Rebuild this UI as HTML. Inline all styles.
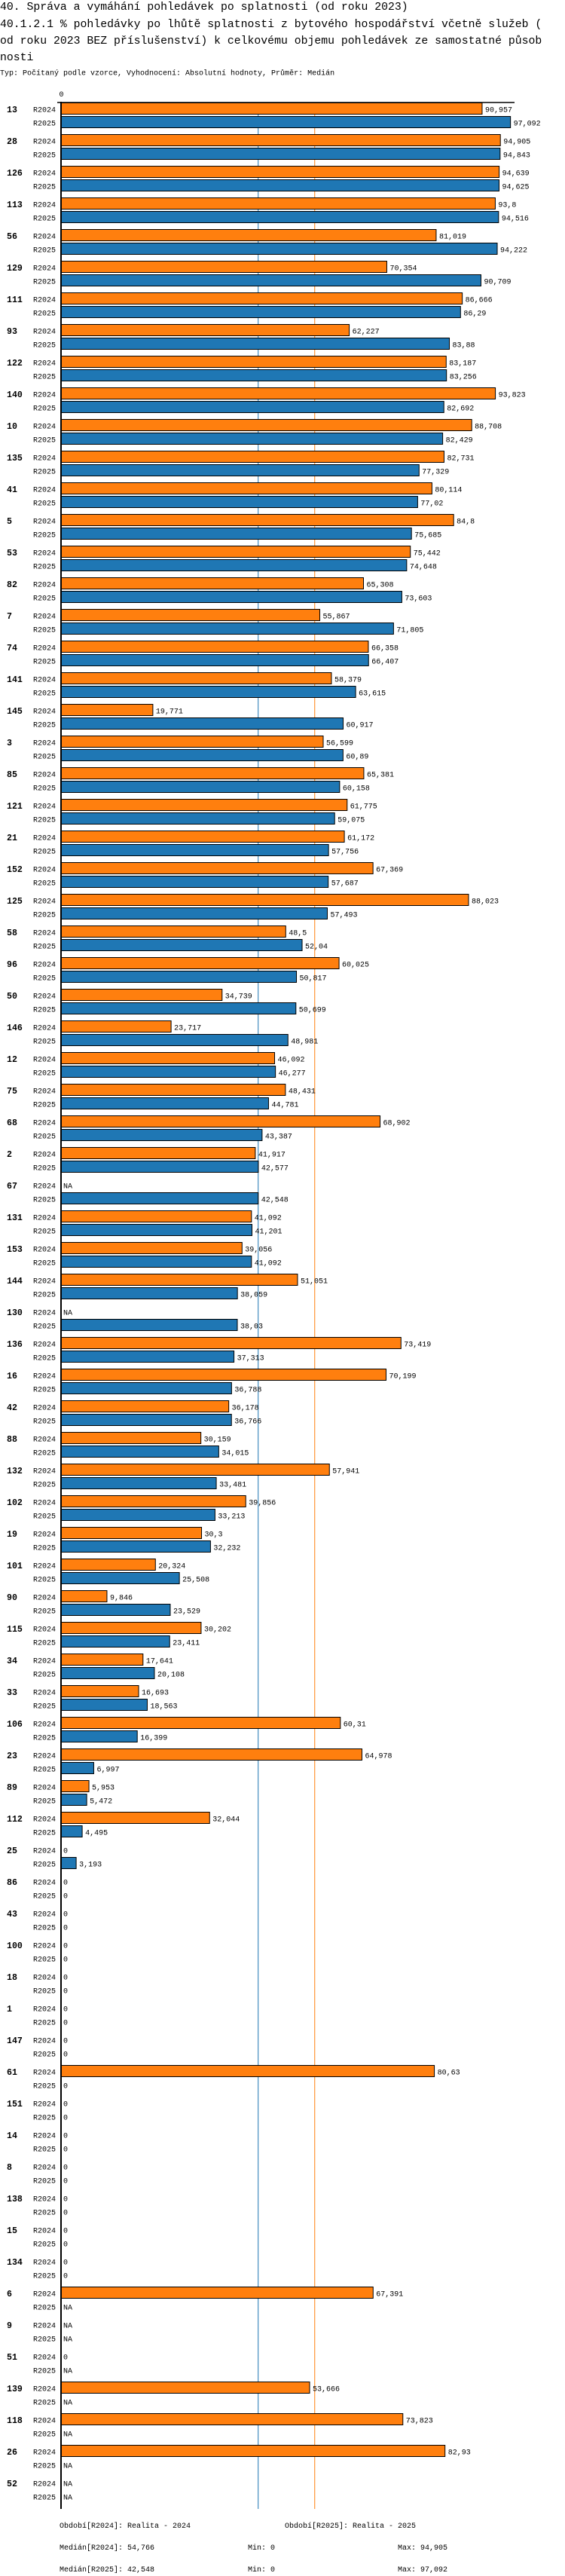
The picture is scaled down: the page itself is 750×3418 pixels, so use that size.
<!DOCTYPE html>
<html><head><meta charset="utf-8">
<style>
html,body{margin:0;padding:0;background:#fff;}
svg{display:block;}
text{font-family:"Liberation Mono",monospace;fill:#000;}
</style></head>
<body>
<svg id="chart" width="750" height="3418" viewBox="0 0 750 3418" xmlns="http://www.w3.org/2000/svg">
<text x="0" y="13" font-size="14.8">40. Správa a vymáhání pohledávek po splatnosti (od roku 2023)</text>
<text x="0" y="36" font-size="14.8">40.1.2.1 % pohledávky po lhůtě splatnosti z bytového hospodářství včetně služeb (</text>
<text x="0" y="58" font-size="14.8">od roku 2023 BEZ příslušenství) k celkovému objemu pohledávek ze samostatné působ</text>
<text x="0" y="80" font-size="14.8">nosti</text>
<text x="0" y="99.5" font-size="10">Typ: Počítaný podle vzorce, Vyhodnocení: Absolutní hodnoty, Průměr: Medián</text>
<g id="plot"></g>
<text x="79" y="3354" font-size="10">Období[R2024]: Realita - 2024</text>
<text x="378" y="3354" font-size="10">Období[R2025]: Realita - 2025</text>
<text x="79" y="3383" font-size="10">Medián[R2024]: 54,766</text>
<text x="329" y="3383" font-size="10">Min: 0</text>
<text x="528" y="3383" font-size="10">Max: 94,905</text>
<text x="79" y="3412" font-size="10">Medián[R2025]: 42,548</text>
<text x="329" y="3412" font-size="10">Min: 0</text>
<text x="528" y="3412" font-size="10">Max: 97,092</text>
</svg>
<script>
const categories = ["13","28","126","113","56","129","111","93","122","140","10","135","41","5","53","82","7","74","141","145","3","85","121","21","152","125","58","96","50","146","12","75","68","2","67","131","153","144","130","136","16","42","88","132","102","19","101","90","115","34","33","106","23","89","112","25","86","43","100","18","1","147","61","151","14","8","138","15","134","6","9","51","139","118","26","52"];
const seriesNames = ["R2024","R2025"];
const valuesR2024 = [90.957,94.905,94.639,93.8,81.019,70.354,86.666,62.227,83.187,93.823,88.708,82.731,80.114,84.8,75.442,65.308,55.867,66.358,58.379,19.771,56.599,65.381,61.775,61.172,67.369,88.023,48.5,60.025,34.739,23.717,46.092,48.431,68.902,41.917,null,41.092,39.056,51.051,null,73.419,70.199,36.178,30.159,57.941,39.856,30.3,20.324,9.846,30.202,17.641,16.693,60.31,64.978,5.953,32.044,0,0,0,0,0,0,0,80.63,0,0,0,0,0,0,67.391,null,0,53.666,73.823,82.93,null];
const valuesR2025 = [97.092,94.843,94.625,94.516,94.222,90.709,86.29,83.88,83.256,82.692,82.429,77.329,77.02,75.685,74.648,73.603,71.805,66.407,63.615,60.917,60.89,60.158,59.075,57.756,57.687,57.493,52.04,50.817,50.699,48.981,46.277,44.781,43.387,42.577,42.548,41.201,41.092,38.059,38.03,37.313,36.788,36.766,34.015,33.481,33.213,32.232,25.508,23.529,23.411,20.108,18.563,16.399,6.997,5.472,4.495,3.193,0,0,0,0,0,0,0,0,0,0,0,0,0,null,null,null,null,null,null,null];
const medians = [54.766, 42.548];
const axisTickLabels = ["0"];

const NS = "http://www.w3.org/2000/svg";
const plot = document.getElementById("plot");
const X0 = 81.5, PX_PER_UNIT = 6.14, TOP = 136, PITCH = 42;
const colors = ["#ff7f0e", "#1f77b4"];
function xScale(v){ return X0 + v * PX_PER_UNIT; }
function groupTop(i){ return TOP + i * PITCH; }
function fmt(v){ return String(v).replace(".", ","); }
function mk(tag, attrs){ const e = document.createElementNS(NS, tag); for (const k in attrs) e.setAttribute(k, attrs[k]); plot.appendChild(e); return e; }

const bottom = groupTop(categories.length) - 49 + 42;
// median lines
medians.forEach((m, s) => {
  const ln = mk("line", {x1: xScale(m), x2: xScale(m), y1: TOP, y2: groupTop(categories.length) + 1, stroke: colors[s], "stroke-width": 1});
  
  
});
// top frame line
const tl = mk("line", {x1: 76, x2: 683, y1: TOP, y2: TOP, stroke: "#000", "stroke-width": 1.5});


const tick = mk("text", {x: X0, y: 128, "font-size": 10, "text-anchor": "middle"});
tick.textContent = axisTickLabels[0];



categories.forEach((cat, i) => {
  const top = groupTop(i);
  const gl = mk("text", {x: 9, y: top + 13, "font-size": 11.6, "font-weight": "bold"});
  gl.textContent = cat;
  
  
  [valuesR2024[i], valuesR2025[i]].forEach((v, s) => {
    const by = top + 0.5 + s * 18;
    const rl = mk("text", {x: 74, y: by + 12, "font-size": 10, "text-anchor": "end"});
    rl.textContent = seriesNames[s];
    
    
    if (v === null) {
      const na = mk("text", {x: 84, y: by + 12, "font-size": 10});
      na.textContent = "NA";
      
      
      return;
    }
    if (v > 0) {
      const r = mk("rect", {x: X0, y: by, width: xScale(v) - X0, height: 15, fill: colors[s], stroke: "#000", "stroke-width": 1});
      
      
    }
    const vl = mk("text", {x: (v > 0 ? xScale(v) + 4 : 84), y: by + 12, "font-size": 10});
    vl.textContent = fmt(v);
    
    
  });
});
// vertical axis
const ax = mk("line", {x1: 81, x2: 81, y1: TOP - 1, y2: groupTop(categories.length) + 1, stroke: "#000", "stroke-width": 2});


</script>
</body></html>
